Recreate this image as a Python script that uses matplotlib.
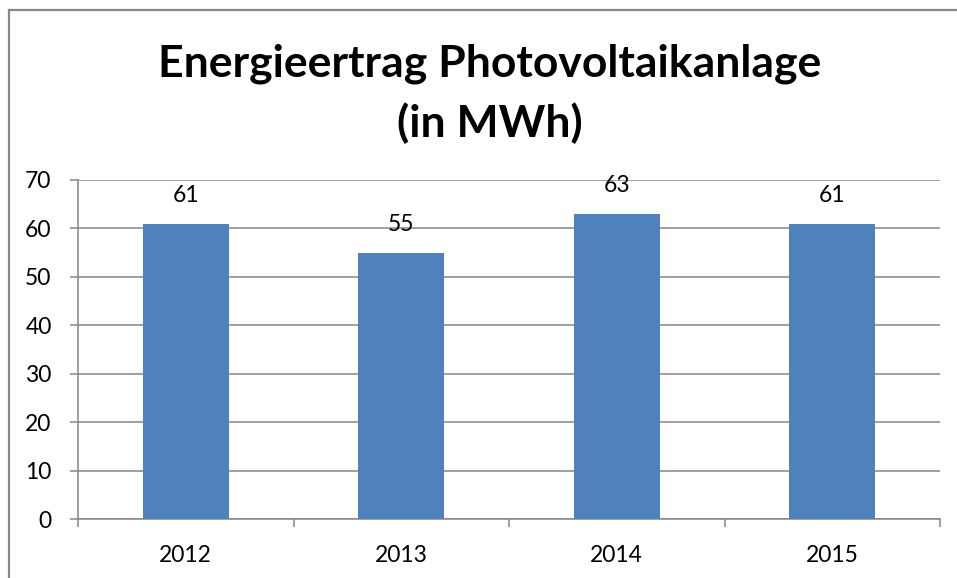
import numpy as np
import matplotlib.pyplot as plt
from matplotlib.lines import Line2D

# data
years = ["2012", "2013", "2014", "2015"]
ertrag = [61, 55, 63, 61]
y_ticks = [0, 10, 20, 30, 40, 50, 60, 70]

plt.rcParams['font.family'] = ['Lato', 'DejaVu Sans']

W, H = 957, 578
fig = plt.figure(figsize=(W / 100, H / 100), dpi=100)

ax = fig.add_axes([78 / W, 1 - 519 / H, (940 - 78) / W, (519 - 180) / H])

x = np.arange(len(years))
bars = ax.bar(x, ertrag, width=0.4, color='#4F81BD', zorder=3)

grid_col = '#868686'
ax.set_xlim(-0.5, len(years) - 0.5)
ax.set_ylim(0, 70)
ax.set_yticks(y_ticks)
ax.yaxis.grid(True, color=grid_col, linewidth=1.1, zorder=0)
ax.tick_params(axis='y', length=6, width=1.1, color=grid_col, pad=13, labelsize=16.5)

ax.set_xticks(x)
ax.set_xticklabels(years)
ax.set_xticks(np.arange(len(years) + 1) - 0.5, minor=True)
ax.tick_params(axis='x', which='major', length=0, pad=19, labelsize=16.5)
ax.tick_params(axis='x', which='minor', length=6, width=1.1, color=grid_col)

for s in ['top', 'right']:
    ax.spines[s].set_visible(False)
for s in ['left', 'bottom']:
    ax.spines[s].set_color(grid_col)
    ax.spines[s].set_linewidth(1.1)

for b, v in zip(bars, ertrag):
    ax.annotate(str(v), (b.get_x() + b.get_width() / 2, v), xytext=(0, 13),
                textcoords='offset points', ha='center', va='bottom', fontsize=16.5)

fig.text(490 / W, 1 - 64 / H, "Energieertrag Photovoltaikanlage", ha='center', va='center',
         fontsize=32, fontweight='bold')
fig.text(490 / W, 1 - 123 / H, "(in MWh)", ha='center', va='center',
         fontsize=32, fontweight='bold')

# outer chart frame (partly cut off)
fig.add_artist(Line2D([8.5 / W, 1], [1 - 9.5 / H, 1 - 9.5 / H], color='#888888', linewidth=1.6))
fig.add_artist(Line2D([8.5 / W, 8.5 / W], [0, 1 - 9.5 / H], color='#888888', linewidth=1.6))

fig.savefig('out.png', dpi=100)
